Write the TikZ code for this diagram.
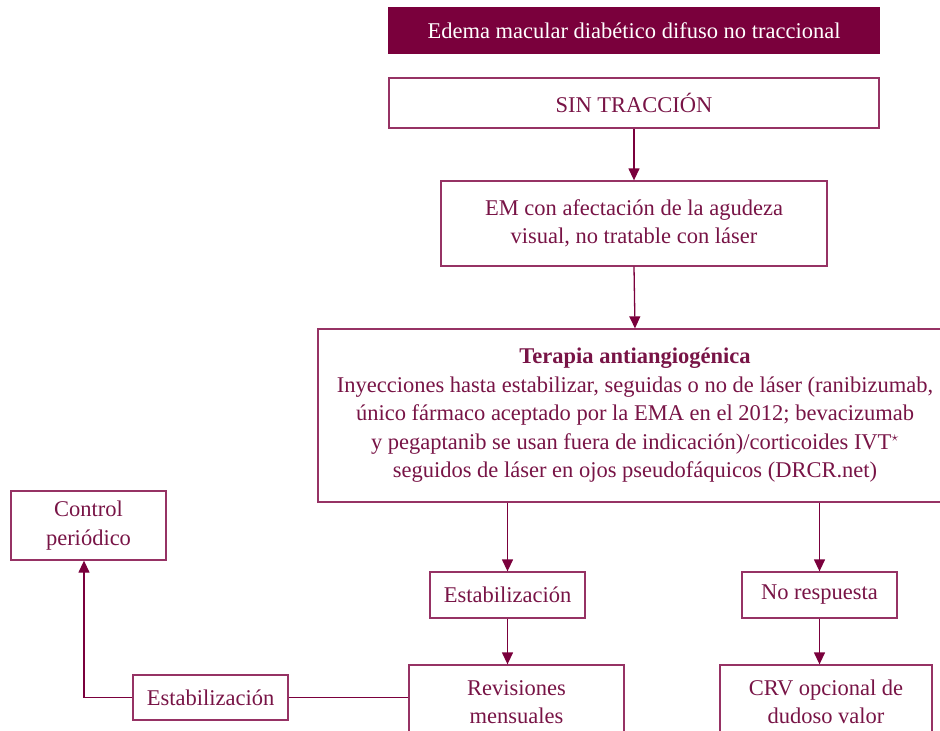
\documentclass[tikz,border=0pt]{standalone}
\usepackage{fontspec}
\setmainfont{Liberation Serif}
\usetikzlibrary{arrows.meta}
\definecolor{maroon}{RGB}{122,0,60}
\definecolor{boxline}{RGB}{150,50,100}
\definecolor{txt}{RGB}{120,20,70}
\tikzset{
  box/.style={draw=boxline, line width=1.3pt, inner sep=0pt, align=center, text=txt,
    font=\fontsize{22.5}{28.5}\selectfont},
  arr/.style={draw=maroon, line width=1.3pt, -{Stealth[length=12pt,width=11pt,inset=0pt]}},
  ln/.style={draw=maroon, line width=1.3pt}
}
\begin{document}
\begin{tikzpicture}[x=1pt,y=-1pt]
\useasboundingbox (0,0) rectangle (940,731);
\clip (0,0) rectangle (940,731);
\node[box, fill=maroon, draw=maroon, text=white, minimum width=490pt, minimum height=45pt] (title) at (634,30.5) {Edema macular diabético difuso no traccional};
\node[box, minimum width=490pt, minimum height=50pt] (sin) at (634,103) {SIN TRACCIÓN};
\node[box, minimum width=386pt, minimum height=85pt] (em) at (634,223.5) {EM con afectación de la agudeza\\visual, no tratable con láser};
\node[box, minimum width=634pt, minimum height=173pt] (tera) at (635,415.5) {\textbf{Terapia antiangiogénica}\\Inyecciones hasta estabilizar, seguidas o no de láser (ranibizumab,\\único fármaco aceptado por la EMA en el 2012; bevacizumab\\y pegaptanib se usan fuera de indicación)/corticoides IVT$^\star$\\seguidos de láser en ojos pseudofáquicos (DRCR.net)};
\node[box, minimum width=155pt, minimum height=46pt] (est1) at (507.5,595) {Estabilización};
\node[box, minimum width=155pt, minimum height=46pt] (nores) at (819.5,595) {No respuesta};
\node[box, minimum width=215pt, minimum height=74pt] (rev) at (516.5,702) {Revisiones\\mensuales};
\node[box, minimum width=212pt, minimum height=74pt] (crv) at (826,702) {CRV opcional de\\dudoso valor};
\node[box, minimum width=155pt, minimum height=45pt] (est2) at (210.5,697.5) {Estabilización};
\node[box, minimum width=155pt, minimum height=69pt] (ctrl) at (88.5,525.5) {Control\\periódico};
\coordinate (corner) at (84,697.5);
\draw[arr] (sin.south) -- (em.north);
\draw[arr] (em.south) -- (tera.north);
\draw[arr] (tera.south -| est1.north) -- (est1.north);
\draw[arr] (tera.south -| nores.north) -- (nores.north);
\draw[arr] (est1.south) -- (rev.north -| est1.south);
\draw[arr] (nores.south) -- (crv.north -| nores.south);
\draw[ln] (rev.west |- est2.east) -- (est2.east);
\draw[arr] (est2.west) -- (corner) -- (corner |- ctrl.south);
\end{tikzpicture}
\end{document}
